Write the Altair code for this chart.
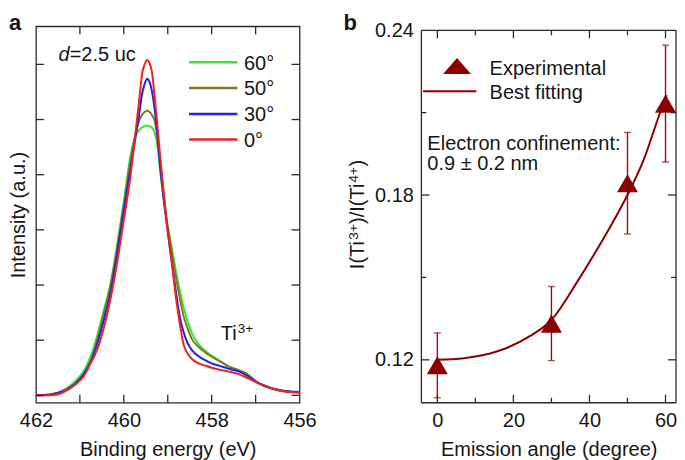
import altair as alt
import pandas as pd

FONT = "Liberation Sans"
INK = "#161616"
FRAME = "#2a2a2a"
DARKRED = "#8b0000"

# ---------------- panel a : Ti 2p spectra ----------------
energy = [462.0, 461.75, 461.5, 461.3, 461.1, 460.9, 460.75, 460.6, 460.45, 460.3,
          460.15, 460.0, 459.85, 459.75, 459.65, 459.58, 459.52, 459.47, 459.42, 459.36,
          459.3, 459.24, 459.17, 459.1, 459.02, 458.95, 458.88, 458.8, 458.72, 458.64,
          458.55, 458.45, 458.3, 458.15, 458.0, 457.8, 457.6, 457.4, 457.2, 457.0,
          456.8, 456.6, 456.4, 456.2, 456.0]
i_60 = [0.00, 0.01, 0.04, 0.13, 0.26, 0.46, 0.72, 1.10, 1.56, 2.04,
        2.74, 3.52, 4.33, 4.67, 4.81, 4.86, 4.88, 4.89, 4.88, 4.85,
        4.77, 4.55, 4.05, 3.62, 3.16, 2.85, 2.55, 2.19, 1.88, 1.60,
        1.35, 1.13, 0.93, 0.81, 0.72, 0.62, 0.52, 0.46, 0.39, 0.26,
        0.17, 0.12, 0.08, 0.06, 0.05]
i_50 = [0.00, 0.00, 0.02, 0.09, 0.20, 0.40, 0.63, 1.02, 1.50, 2.00,
        2.68, 3.45, 4.25, 4.68, 4.98, 5.09, 5.14, 5.16, 5.14, 5.08,
        4.98, 4.72, 4.25, 3.75, 3.16, 2.80, 2.45, 2.08, 1.74, 1.44,
        1.22, 1.02, 0.88, 0.78, 0.70, 0.61, 0.52, 0.46, 0.39, 0.26,
        0.17, 0.12, 0.08, 0.06, 0.05]
i_30 = [0.00, 0.01, 0.05, 0.11, 0.22, 0.40, 0.62, 0.95, 1.38, 1.88,
        2.58, 3.35, 4.10, 4.60, 5.10, 5.48, 5.66, 5.74, 5.69, 5.51,
        5.20, 4.75, 4.12, 3.60, 3.10, 2.65, 2.25, 1.80, 1.40, 1.15,
        0.95, 0.82, 0.71, 0.64, 0.58, 0.53, 0.48, 0.44, 0.36, 0.25,
        0.18, 0.12, 0.09, 0.07, 0.06]
i_0 = [0.00, 0.00, 0.02, 0.10, 0.20, 0.36, 0.59, 0.84, 1.24, 1.76,
       2.42, 3.18, 3.97, 4.65, 5.35, 5.85, 6.01, 6.08, 6.03, 5.86,
       5.43, 4.93, 4.30, 3.70, 3.10, 2.70, 2.22, 1.70, 1.27, 0.92,
       0.76, 0.66, 0.58, 0.54, 0.50, 0.46, 0.43, 0.39, 0.32, 0.24,
       0.17, 0.12, 0.08, 0.06, 0.05]
series_labels = ["60°", "50°", "30°", "0°"]
series_colors = ["#38e438", "#807b1e", "#2023e0", "#ee2222"]
series_values = [i_60, i_50, i_30, i_0]

energy_ticks = [457, 458, 459, 460, 461]
energy_labels = [462, 460, 458, 456]
intensity_ticks = [0, 1, 2, 3, 4, 5, 6]

# ---------------- panel b : ratio vs angle ----------------
angle_exp = [0, 30, 50, 60]
ratio_exp = [0.118, 0.1332, 0.1843, 0.2133]
ratio_err = [0.0118, 0.0135, 0.0185, 0.0213]
angle_fit = [0, 7, 15.6, 24.2, 30, 37.1, 41.4, 45.7, 50, 54.3, 58.5, 60.3]
ratio_fit = [0.1200, 0.1206, 0.1230, 0.1285, 0.1345, 0.1491, 0.1588, 0.1690,
             0.1800, 0.1930, 0.2097, 0.2164]
angle_major = [0, 20, 40, 60]
angle_minor = [10, 30, 50]
ratio_major = [0.12, 0.18]
ratio_minor = [0.15, 0.21]
ratio_labels = [0.12, 0.18, 0.24]
# y title of panel b, written piece by piece so the charges are real superscripts
ytitle_parts = ["I(Ti", "3+", ")/I(Ti", "4+", ")"]
ytitle_super = [False, True, False, True, False]

rule_style = dict(color=FRAME, strokeWidth=1.3)
# advance widths (em) of Liberation Sans glyphs used in the y title
ADV = {"I": .278, "(": .333, ")": .333, "T": .611, "i": .222, "/": .278,
       "3": .556, "4": .556, "+": .584}


def one(txt):
    return pd.DataFrame({"t": [txt]})


def label(txt, x, y, size=20, **kw):
    return alt.Chart(one(txt)).mark_text(align="left", baseline="alphabetic", fontSize=size,
                                         font=FONT, color=INK, **kw).encode(
        text="t:N", x=alt.value(x), y=alt.value(y))


# ---------------- panel a chart ----------------
WA, HA = 264, 377
sx_a = alt.Scale(domain=[456, 462], reverse=True, nice=False, zero=False)
sy_a = alt.Scale(domain=[-0.134, 6.69], nice=False, zero=False)
ax_a_x = alt.Axis(values=energy_labels, format="d", title="Binding energy (eV)",
                  ticks=False, tickSize=0, domain=False, grid=False, labelPadding=8,
                  titlePadding=9, labelFlush=False)
ax_a_y = alt.Axis(labels=False, ticks=False, tickSize=0, domain=False, grid=False,
                  title="Intensity (a.u.)", titlePadding=7, minExtent=0)

layers_a = []
for lab, col, vals in zip(series_labels, series_colors, series_values):
    df = pd.DataFrame({"E": energy, "I": vals})
    layers_a.append(
        alt.Chart(df).mark_line(color=col, strokeWidth=2, interpolate="monotone").encode(
            x=alt.X("E:Q", scale=sx_a, axis=ax_a_x),
            y=alt.Y("I:Q", scale=sy_a, axis=ax_a_y)))

tick_e = pd.DataFrame({"E": energy_ticks})
tick_i = pd.DataFrame({"I": intensity_ticks})
layers_a += [
    alt.Chart(tick_e).mark_rule(**rule_style).encode(
        x=alt.X("E:Q", scale=sx_a, axis=ax_a_x), y=alt.value(HA), y2=alt.value(HA - 8)),
    alt.Chart(tick_e).mark_rule(**rule_style).encode(
        x=alt.X("E:Q", scale=sx_a, axis=ax_a_x), y=alt.value(0), y2=alt.value(8)),
    alt.Chart(tick_i).mark_rule(**rule_style).encode(
        y=alt.Y("I:Q", scale=sy_a, axis=ax_a_y), x=alt.value(0), x2=alt.value(8)),
    alt.Chart(tick_i).mark_rule(**rule_style).encode(
        y=alt.Y("I:Q", scale=sy_a, axis=ax_a_y), x=alt.value(WA), x2=alt.value(WA - 8)),
]

leg_rows_y = [36, 61.7, 87.7, 113.3]
for lab, col, ry in zip(series_labels, series_colors, leg_rows_y):
    layers_a.append(alt.Chart(one(lab)).mark_rule(color=col, strokeWidth=2.5).encode(
        x=alt.value(153.3), x2=alt.value(201.7), y=alt.value(ry)))
    layers_a.append(label(lab, 208.3, ry + 7.3))

layers_a += [
    label("d", 22.7, 35, fontStyle="italic"),
    label("=2.5 uc", 33.8, 35),
    label("Ti", 185, 314),
    label("3+", 202.2, 307.5, size=13.5),
    label("a", -27, 4, size=22, fontWeight="bold"),
]

panel_a = alt.layer(*layers_a).properties(width=WA, height=HA)

# ---------------- panel b chart ----------------
# the view is as tall as panel a; the frame of panel b starts 4 px lower
WB, HB, TOPB = 255, 377, 4
sx_b = alt.Scale(domain=[-4.20, 62.76], nice=False, zero=False)
sy_b = alt.Scale(domain=[0.10436, 0.24145], nice=False, zero=False)
ax_b_x = alt.Axis(values=angle_major, format="d", title="Emission angle (degree)",
                  ticks=False, tickSize=0, domain=False, grid=False, labelPadding=8,
                  titlePadding=9, labelFlush=False)
ax_b_y = alt.Axis(values=ratio_labels, format=".2f", title=None,
                  ticks=False, tickSize=0, domain=False, grid=False, labelPadding=8,
                  minExtent=0)

exp_df = pd.DataFrame({"A": angle_exp, "R": ratio_exp,
                       "lo": [r - e for r, e in zip(ratio_exp, ratio_err)],
                       "hi": [r + e for r, e in zip(ratio_exp, ratio_err)]})
fit_df = pd.DataFrame({"A": angle_fit, "R": ratio_fit})

xb = alt.X("A:Q", scale=sx_b, axis=ax_b_x)
ERR = "#9a1010"
layers_b = [
    alt.Chart(exp_df).mark_rule(color=ERR, strokeWidth=1.4).encode(
        x=xb, y=alt.Y("lo:Q", scale=sy_b, axis=ax_b_y), y2="hi:Q"),
    alt.Chart(exp_df).mark_tick(color=ERR, orient="horizontal", size=7, thickness=1.4).encode(
        x=xb, y=alt.Y("lo:Q", scale=sy_b, axis=ax_b_y)),
    alt.Chart(exp_df).mark_tick(color=ERR, orient="horizontal", size=7, thickness=1.4).encode(
        x=xb, y=alt.Y("hi:Q", scale=sy_b, axis=ax_b_y)),
    alt.Chart(fit_df).mark_line(color=DARKRED, strokeWidth=2, interpolate="monotone").encode(
        x=xb, y=alt.Y("R:Q", scale=sy_b, axis=ax_b_y)),
    alt.Chart(exp_df).mark_point(shape="triangle-up", filled=True, size=440, color=DARKRED,
                                 opacity=1).encode(
        x=xb, y=alt.Y("R:Q", scale=sy_b, axis=ax_b_y)),
]

# frame of panel b
frame = one("frame")
layers_b += [
    alt.Chart(frame).mark_rule(**rule_style).encode(
        x=alt.value(0), x2=alt.value(WB), y=alt.value(TOPB)),
    alt.Chart(frame).mark_rule(**rule_style).encode(
        x=alt.value(0), x2=alt.value(WB), y=alt.value(HB)),
    alt.Chart(frame).mark_rule(**rule_style).encode(
        x=alt.value(0), y=alt.value(TOPB), y2=alt.value(HB)),
    alt.Chart(frame).mark_rule(**rule_style).encode(
        x=alt.value(WB), y=alt.value(TOPB), y2=alt.value(HB)),
]

tick_a_major = pd.DataFrame({"A": angle_major})
tick_a_minor = pd.DataFrame({"A": angle_minor})
tick_r_major = pd.DataFrame({"R": ratio_major})
tick_r_minor = pd.DataFrame({"R": ratio_minor})
for dfa, ln in ((tick_a_major, 8), (tick_a_minor, 5)):
    layers_b.append(alt.Chart(dfa).mark_rule(**rule_style).encode(
        x=xb, y=alt.value(HB), y2=alt.value(HB - ln)))
    layers_b.append(alt.Chart(dfa).mark_rule(**rule_style).encode(
        x=xb, y=alt.value(TOPB), y2=alt.value(TOPB + ln)))
for dfr, ln in ((tick_r_major, 8), (tick_r_minor, 5)):
    layers_b.append(alt.Chart(dfr).mark_rule(**rule_style).encode(
        y=alt.Y("R:Q", scale=sy_b, axis=ax_b_y), x=alt.value(0), x2=alt.value(ln)))
    layers_b.append(alt.Chart(dfr).mark_rule(**rule_style).encode(
        y=alt.Y("R:Q", scale=sy_b, axis=ax_b_y), x=alt.value(WB), x2=alt.value(WB - ln)))

layers_b += [
    alt.Chart(one("Experimental")).mark_point(shape="M-1,0.571L1,0.571L0,-0.571Z", filled=True,
                                              size=784, color=DARKRED, opacity=1).encode(
        x=alt.value(35.7), y=alt.value(39.7)),
    label("Experimental", 68.3, 49),
    alt.Chart(one("Best fitting")).mark_rule(color=DARKRED, strokeWidth=2).encode(
        x=alt.value(1.7), x2=alt.value(55), y=alt.value(65)),
    label("Best fitting", 68.3, 72.3),
    label("Electron confinement:", 6, 124),
    label("0.9 ± 0.2 nm", 6, 144),
    label("b", -78, 4, size=22, fontWeight="bold"),
]

# rotated y title of panel b (reads bottom to top)
sizes = [13.5 if s else 20 for s in ytitle_super]
widths = [sum(ADV[c] for c in t) * s for t, s in zip(ytitle_parts, sizes)]
ypos = 188.5 + (sum(widths) + 0.5 * (len(widths) - 1)) / 2
for t, s, sup, w in zip(ytitle_parts, sizes, ytitle_super, widths):
    layers_b.append(label(t, -63.5 if sup else -57.5, ypos, size=s, angle=270))
    ypos -= w + 0.5

panel_b = alt.layer(*layers_b).properties(
    width=WB, height=HB, view=alt.ViewBackground(strokeOpacity=0))

chart = (
    alt.hconcat(panel_a, panel_b, spacing=26)
    .properties(padding={"left": 0, "top": 3, "right": 0, "bottom": 0})
    .configure(font=FONT)
    .configure_view(stroke=FRAME, strokeWidth=1.3)
    .configure_axis(labelFont=FONT, titleFont=FONT, labelFontSize=20, titleFontSize=20,
                    labelColor=INK, titleColor=INK, titleFontWeight="normal")
)

chart.save("out.html", embed_options={"renderer": "svg", "actions": False})
